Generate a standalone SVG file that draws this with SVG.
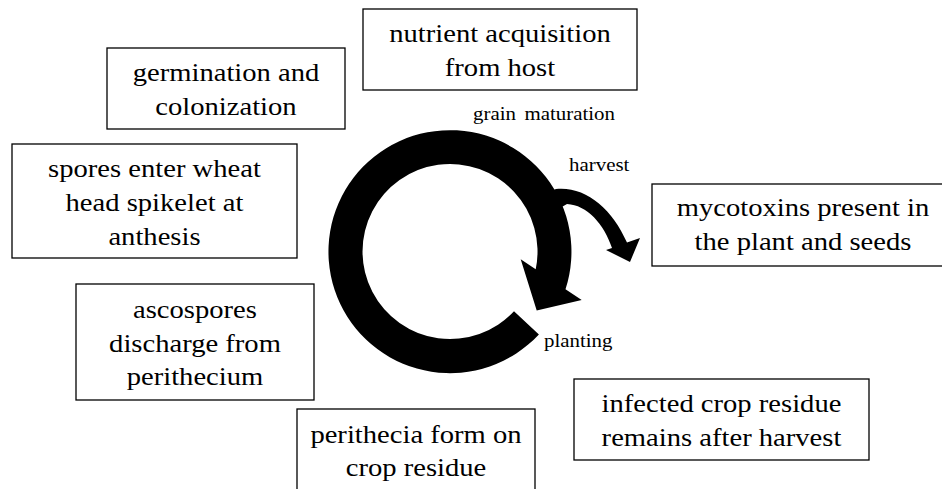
<svg xmlns="http://www.w3.org/2000/svg" width="942" height="489" viewBox="0 0 942 489">
  <style>
    .box { fill: #fff; stroke: #000; stroke-width: 1.3; }
    .lbl { font-family: "Times New Roman", "Liberation Serif", Tinos, "Noto Serif", "DejaVu Serif", Times, serif; font-size: 26px; fill: #000; text-anchor: middle; }
    .note { font-family: "Times New Roman", "Liberation Serif", Tinos, "Noto Serif", "DejaVu Serif", Times, serif; font-size: 19px; fill: #000; }
    .arrow { fill: #000; stroke: none; }
  </style>
  <rect width="942" height="489" fill="#fff"/>

  <!-- cycle arrows -->
  <g id="connectors">
    <!-- main ring: tail at planting, head after harvest -->
    <path class="arrow" d="M514.0,311.2 L538.9,334.4 A121.5,121.5 0 1 1 565.5,289.2 L581.7,300 L536.7,310.5 L520.7,259.3 L535.7,269.3 A87.5,87.5 0 1 0 514.0,311.2 Z"/>
    <!-- branch towards mycotoxins -->
    <path class="arrow" d="M548,192 L556,189 C585,186 612,208 627,242.6 L640,238 L630,262 L606,250 L612,247.9 C604,224 587,205 567,204 L560,208 Z"/>
  </g>

  <g id="stage-labels">
    <text class="note" x="473" y="120.5" word-spacing="3" transform="matrix(1.1 0 0 1 -47.3 0)">grain maturation</text>
    <text class="note" x="569" y="171.5" transform="matrix(1.1 0 0 1 -56.9 0)">harvest</text>
    <text class="note" x="544" y="347.5" transform="matrix(1.1 0 0 1 -54.4 0)">planting</text>
  </g>

  <g id="nutrient">
    <rect class="box" x="363" y="9" width="274" height="81"/>
    <text class="lbl" transform="matrix(1.1 0 0 1 -50 0)"><tspan x="500" y="42.5">nutrient acquisition</tspan><tspan x="500" y="76.5">from host</tspan></text>
  </g>

  <g id="germination">
    <rect class="box" x="107" y="48" width="238" height="81"/>
    <text class="lbl" transform="matrix(1.1 0 0 1 -22.6 0)"><tspan x="226" y="81.5">germination and</tspan><tspan x="226" y="115.5">colonization</tspan></text>
  </g>

  <g id="spores">
    <rect class="box" x="12" y="144" width="285" height="114"/>
    <text class="lbl" transform="matrix(1.1 0 0 1 -15.45 0)"><tspan x="154.5" y="177.5">spores enter wheat</tspan><tspan x="154.5" y="211.5">head spikelet at</tspan><tspan x="154.5" y="245.5">anthesis</tspan></text>
  </g>

  <g id="ascospores">
    <rect class="box" x="76" y="284" width="238" height="116"/>
    <text class="lbl" transform="matrix(1.1 0 0 1 -19.5 0)"><tspan x="195" y="318.5">ascospores</tspan><tspan x="195" y="352">discharge from</tspan><tspan x="195" y="385.5">perithecium</tspan></text>
  </g>

  <g id="perithecia">
    <rect class="box" x="297" y="409" width="238" height="100"/>
    <text class="lbl" transform="matrix(1.1 0 0 1 -41.6 0)"><tspan x="416" y="443.5">perithecia form on</tspan><tspan x="416" y="476">crop residue</tspan></text>
  </g>

  <g id="residue">
    <rect class="box" x="574" y="379" width="295" height="81"/>
    <text class="lbl" transform="matrix(1.1 0 0 1 -72.15 0)"><tspan x="721.5" y="412">infected crop residue</tspan><tspan x="721.5" y="446">remains after harvest</tspan></text>
  </g>

  <g id="mycotoxins">
    <rect class="box" x="652" y="184" width="302" height="82"/>
    <text class="lbl" transform="matrix(1.1 0 0 1 -80.3 0)"><tspan x="803" y="216">mycotoxins present in</tspan><tspan x="803" y="250">the plant and seeds</tspan></text>
  </g>
</svg>
